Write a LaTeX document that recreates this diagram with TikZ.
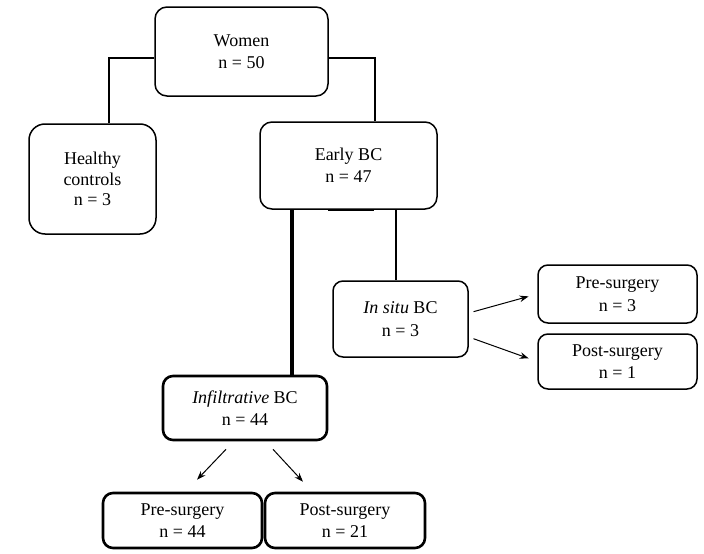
\documentclass[tikz,border=0pt]{standalone}
\usepackage{fontspec}
\setmainfont{Liberation Serif}
\usetikzlibrary{arrows.meta}
\tikzset{
  box/.style={draw, line width=1.5pt, rounded corners=12pt, inner sep=0pt, align=center,
    font=\fontsize{18}{22.5}\selectfont},
  thickbox/.style={box, line width=2.6pt, rounded corners=10pt},
  conn/.style={line width=1.5pt},
  thickconn/.style={line width=3.5pt},
  arr/.style={line width=1pt, -{Stealth[length=9pt,width=6.5pt]}}
}
\begin{document}
\begin{tikzpicture}[x=1pt,y=-1pt]
\useasboundingbox (0,0) rectangle (704,554);
\node[box, minimum width=173pt, minimum height=89pt] (women) at (241.5,51.5) {Women\\n = 50};
\node[box, rounded corners=16pt, minimum width=127pt, minimum height=110pt, font=\fontsize{18}{20.5}\selectfont] (healthy) at (92.5,179) {Healthy\\controls\\n = 3};
\node[box, minimum width=177pt, minimum height=87pt] (early) at (348.5,165.5) {Early BC\\n = 47};
\node[box, rounded corners=10pt, minimum width=135pt, minimum height=76pt] (insitu) at (400.5,319) {\textit{In situ} BC\\n = 3};
\node[box, rounded corners=10pt, minimum width=159pt, minimum height=58pt] (preR) at (617.5,294) {Pre-surgery\\n = 3};
\node[box, rounded corners=10pt, minimum width=159pt, minimum height=55pt] (postR) at (617.5,361.5) {Post-surgery\\n = 1};
\node[thickbox, minimum width=164pt, minimum height=64pt] (infil) at (245,408) {\textit{Infiltrative} BC\\n = 44};
\node[thickbox, minimum width=159pt, minimum height=55pt] (preB) at (182.5,520.5) {Pre-surgery\\n = 44};
\node[thickbox, minimum width=160pt, minimum height=55pt] (postB) at (345,520.5) {Post-surgery\\n = 21};

\draw[conn] (women.west |- 0,58) -| (healthy.north -| 109,0);
\draw[conn] (women.east |- 0,58) -| (early.north -| 375,0);
\draw[thickconn] (early.south -| 292,0) -- (infil.north -| 292,0);
\draw[line width=2.5pt] (early.south -| 328,0) -- (early.south -| 374,0);
\draw[conn] (early.south -| 396,0) -- (insitu.north -| 396,0);

\draw[arr, shorten <=5pt, shorten >=9pt] (insitu.east |- 0,313) -- (preR.west);
\draw[arr, shorten <=5pt, shorten >=9pt] (insitu.east |- 0,337) -- (postR.west);
\draw[arr] ([shift={(-19,8)}]infil.south) -- ([shift={(14.5,-12)}]preB.north);
\draw[arr] ([shift={(28,8)}]infil.south) -- ([shift={(-42,-10)}]postB.north);
\end{tikzpicture}
\end{document}
